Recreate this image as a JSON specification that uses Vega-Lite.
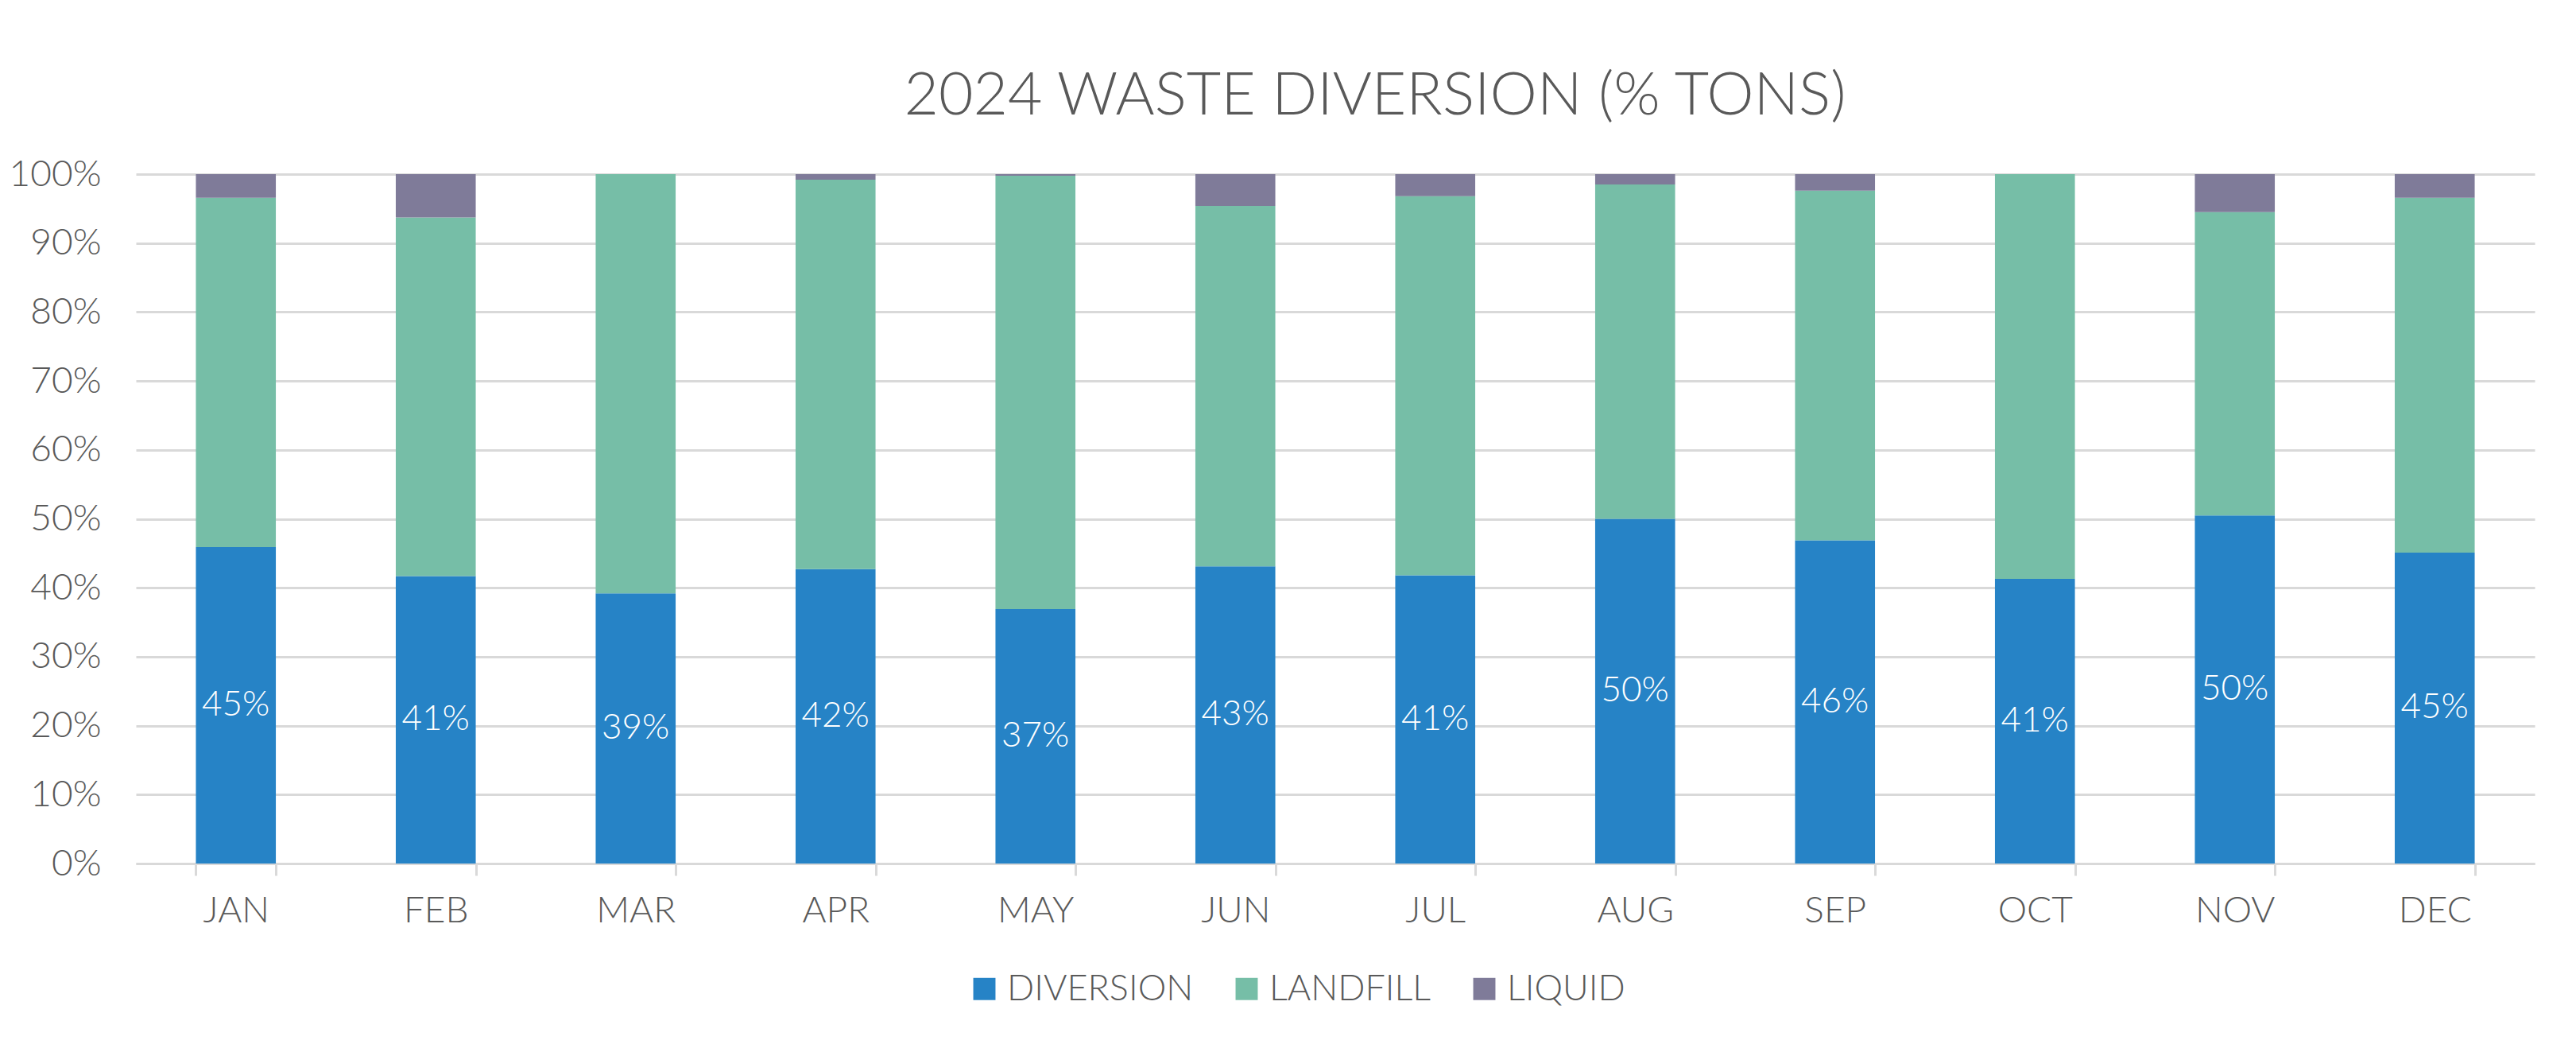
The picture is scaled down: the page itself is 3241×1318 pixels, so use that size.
{
  "$schema": "https://vega.github.io/schema/vega-lite/v6.json",
  "width": 3018,
  "height": 867,
  "autosize": {"type": "none"},
  "padding": {"left": 171, "top": 219, "right": 52, "bottom": 232},
  "background": "white",
  "config": {
    "font": "Lato",
    "view": {"stroke": null},
    "title": {"fontSize": 75, "fontWeight": 300, "color": "#595959"},
    "axis": {"labelFont": "Lato", "labelFontWeight": 300, "labelColor": "#595959"},
    "legend": {"labelFont": "Lato", "labelFontWeight": 300, "labelColor": "#595959"}
  },
  "title": {
    "text": "2024 WASTE DIVERSION (% TONS)",
    "anchor": "middle",
    "frame": "group",
    "dx": 50,
    "offset": 36
  },
  "data": {
    "values": [
      {"month": "JAN", "type": "DIVERSION", "pct": 0.459, "label": "45%"},
      {"month": "JAN", "type": "LANDFILL", "pct": 0.5066},
      {"month": "JAN", "type": "LIQUID", "pct": 0.0344},
      {"month": "FEB", "type": "DIVERSION", "pct": 0.417, "label": "41%"},
      {"month": "FEB", "type": "LANDFILL", "pct": 0.52},
      {"month": "FEB", "type": "LIQUID", "pct": 0.063},
      {"month": "MAR", "type": "DIVERSION", "pct": 0.392, "label": "39%"},
      {"month": "MAR", "type": "LANDFILL", "pct": 0.608},
      {"month": "MAR", "type": "LIQUID", "pct": 0},
      {"month": "APR", "type": "DIVERSION", "pct": 0.427, "label": "42%"},
      {"month": "APR", "type": "LANDFILL", "pct": 0.565},
      {"month": "APR", "type": "LIQUID", "pct": 0.008},
      {"month": "MAY", "type": "DIVERSION", "pct": 0.369, "label": "37%"},
      {"month": "MAY", "type": "LANDFILL", "pct": 0.6287},
      {"month": "MAY", "type": "LIQUID", "pct": 0.0023},
      {"month": "JUN", "type": "DIVERSION", "pct": 0.431, "label": "43%"},
      {"month": "JUN", "type": "LANDFILL", "pct": 0.523},
      {"month": "JUN", "type": "LIQUID", "pct": 0.046},
      {"month": "JUL", "type": "DIVERSION", "pct": 0.418, "label": "41%"},
      {"month": "JUL", "type": "LANDFILL", "pct": 0.55},
      {"month": "JUL", "type": "LIQUID", "pct": 0.032},
      {"month": "AUG", "type": "DIVERSION", "pct": 0.5, "label": "50%"},
      {"month": "AUG", "type": "LANDFILL", "pct": 0.485},
      {"month": "AUG", "type": "LIQUID", "pct": 0.015},
      {"month": "SEP", "type": "DIVERSION", "pct": 0.469, "label": "46%"},
      {"month": "SEP", "type": "LANDFILL", "pct": 0.507},
      {"month": "SEP", "type": "LIQUID", "pct": 0.024},
      {"month": "OCT", "type": "DIVERSION", "pct": 0.413, "label": "41%"},
      {"month": "OCT", "type": "LANDFILL", "pct": 0.587},
      {"month": "OCT", "type": "LIQUID", "pct": 0},
      {"month": "NOV", "type": "DIVERSION", "pct": 0.505, "label": "50%"},
      {"month": "NOV", "type": "LANDFILL", "pct": 0.44},
      {"month": "NOV", "type": "LIQUID", "pct": 0.055},
      {"month": "DEC", "type": "DIVERSION", "pct": 0.451, "label": "45%"},
      {"month": "DEC", "type": "LANDFILL", "pct": 0.5146},
      {"month": "DEC", "type": "LIQUID", "pct": 0.0344}
    ]
  },
  "encoding": {
    "x": {
      "field": "month",
      "type": "nominal",
      "sort": null,
      "title": null,
      "scale": {"paddingInner": 0.6, "paddingOuter": 0.3},
      "axis": {
        "labelAngle": 0,
        "labelFontSize": 46,
        "labelPadding": 22,
        "tickBand": "extent",
        "tickSize": 15,
        "tickWidth": 3,
        "tickColor": "#d9d9d9",
        "domainColor": "#d9d9d9",
        "domainWidth": 3,
        "grid": false
      }
    }
  },
  "layer": [
    {
      "mark": {"type": "bar"},
      "encoding": {
        "y": {
          "field": "pct",
          "type": "quantitative",
          "stack": "zero",
          "title": null,
          "scale": {"domain": [0, 1]},
          "axis": {
            "values": [0, 0.1, 0.2, 0.3, 0.4, 0.5, 0.6, 0.7, 0.8, 0.9, 1],
            "format": ".0%",
            "labelFontSize": 46,
            "labelPadding": 44,
            "ticks": false,
            "domain": false,
            "gridColor": "#d9d9d9",
            "gridWidth": 3
          }
        },
        "color": {
          "field": "type",
          "type": "nominal",
          "scale": {
            "domain": ["DIVERSION", "LANDFILL", "LIQUID"],
            "range": ["#2683c6", "#76bea7", "#7f7b99"]
          },
          "legend": {
            "title": null,
            "orient": "none",
            "legendX": 1045,
            "legendY": 1002,
            "direction": "horizontal",
            "symbolType": "square",
            "symbolSize": 780,
            "symbolStrokeWidth": 0,
            "labelFontSize": 45,
            "labelLimit": 0,
            "labelOffset": 6,
            "columnPadding": 44
          }
        },
        "order": {"field": "type", "sort": "ascending"}
      }
    },
    {
      "transform": [
        {"filter": "datum.type == 'DIVERSION'"},
        {"calculate": "datum.pct / 2", "as": "mid"}
      ],
      "mark": {
        "type": "text",
        "color": "white",
        "fontSize": 44,
        "fontWeight": 300,
        "baseline": "middle"
      },
      "encoding": {
        "y": {"field": "mid", "type": "quantitative"},
        "text": {"field": "label"}
      }
    }
  ]
}
